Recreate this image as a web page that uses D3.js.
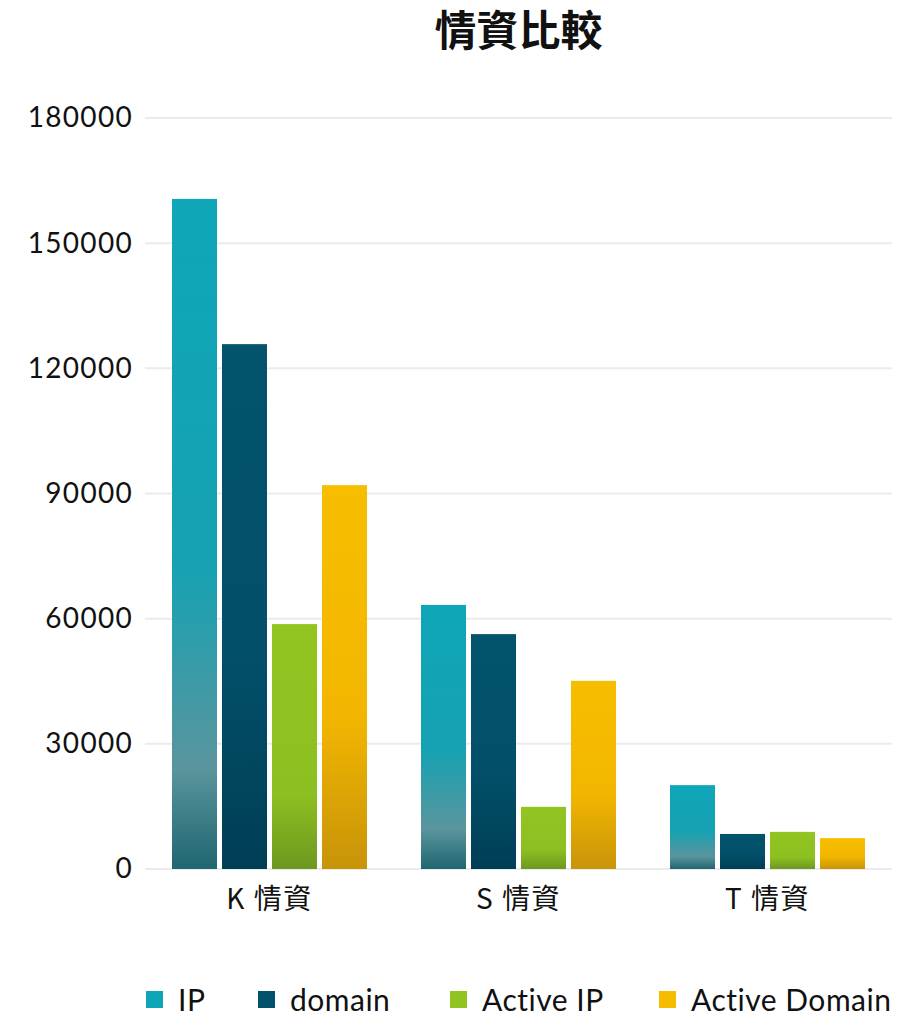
<!DOCTYPE html>
<html><head><meta charset="utf-8">
<script src="https://cdn.jsdelivr.net/npm/d3@7"></script>
<style>body{margin:0;background:#fff}</style>
</head><body><svg id="c" width="914" height="1024"></svg>
<script>
const categories = ["K 情資", "S 情資", "T 情資"];
const seriesNames = ["IP", "domain", "Active IP", "Active Domain"];
const ipValues = [160600, 63300, 20100];
const domainValues = [125800, 56300, 8400];
const activeIpValues = [58700, 14900, 8900];
const activeDomainValues = [92000, 45100, 7400];
const yTicks = [0, 30000, 60000, 90000, 120000, 150000, 180000];
const title = "情資比較";

const seriesValues = [ipValues, domainValues, activeIpValues, activeDomainValues];
const colors = ["#0da5b7", "#03526c", "#91c421", "#f6bd00"];
const gradStops = [
  [[0, "#0ea6b8"], [0.55, "#16a2b2"], [0.85, "#5a959d"], [1, "#1f6670"]],
  [[0, "#03536d"], [0.6, "#024f69"], [1, "#003e56"]],
  [[0, "#92c521"], [0.7, "#8cbf21"], [1, "#6d9820"]],
  [[0, "#f7be00"], [0.6, "#f2b600"], [1, "#c8940a"]]
];

const svg = d3.select("#c");
const latin = "Lato, 'Open Sans', sans-serif";
const cjk = "'Noto Sans CJK TC', sans-serif";

const defs = svg.append("defs");
gradStops.forEach((st, i) => {
  const g = defs.append("linearGradient").attr("id", "g" + i)
    .attr("x1", 0).attr("y1", 0).attr("x2", 0).attr("y2", 1);
  st.forEach(s => g.append("stop").attr("offset", s[0]).attr("stop-color", s[1]));
});

const y = d3.scaleLinear().domain([0, 180000]).range([869, 118]);
const x0 = d3.scaleBand().domain(categories).range([145, 892])
  .paddingInner(54 / 249).paddingOuter(27 / 249);
const x1 = d3.scaleBand().domain(seriesNames).range([0, x0.bandwidth()])
  .paddingInner(0.1).paddingOuter(0);

// grid
svg.append("g").selectAll("line").data(yTicks).join("line")
  .attr("x1", 145).attr("x2", 892)
  .attr("y1", d => y(d)).attr("y2", d => y(d))
  .attr("stroke", "#ebebeb").attr("stroke-width", 2);

// y axis
const ya = svg.append("g").attr("transform", "translate(145,0)")
  .call(d3.axisLeft(y).tickValues(yTicks).tickSize(0).tickPadding(12).tickFormat(d3.format("d")));
ya.select(".domain").remove();
ya.selectAll("text").attr("font-family", latin).attr("font-size", 28)
  .attr("letter-spacing", 1.3).attr("fill", "#111");

// bars
const groups = svg.append("g").selectAll("g").data(categories).join("g")
  .attr("transform", d => `translate(${x0(d)},0)`);
groups.selectAll("rect").data((c, ci) => seriesNames.map((s, si) => ({s, si, v: seriesValues[si][ci]})))
  .join("rect")
  .attr("x", d => x1(d.s)).attr("width", x1.bandwidth())
  .attr("y", d => y(d.v)).attr("height", d => y(0) - y(d.v))
  .attr("fill", d => `url(#g${d.si})`);

// x axis
const xa = svg.append("g").attr("transform", "translate(0,869)")
  .call(d3.axisBottom(x0).tickSize(0).tickPadding(20));
xa.select(".domain").remove();
xa.selectAll("text").attr("font-family", cjk).attr("font-size", 28)
  .attr("letter-spacing", 1.5).attr("fill", "#111");

// title
svg.append("text").attr("x", 518.5).attr("y", 46).attr("text-anchor", "middle")
  .attr("font-family", cjk).attr("font-weight", 600).attr("font-size", 42)
  .attr("fill", "#111").text(title);

// legend
const legX = [146, 258, 450, 659];
const leg = svg.append("g").selectAll("g").data(seriesNames).join("g")
  .attr("transform", (d, i) => `translate(${legX[i]},1000)`);
leg.append("rect").attr("x", 0).attr("y", -9).attr("width", 17).attr("height", 17)
  .attr("fill", (d, i) => colors[i]);
leg.append("text").attr("x", 32).attr("y", 0).attr("dy", "0.35em")
  .attr("font-family", latin).attr("font-size", 30).attr("letter-spacing", 0.5)
  .attr("fill", "#111").text(d => d);
</script></body></html>
